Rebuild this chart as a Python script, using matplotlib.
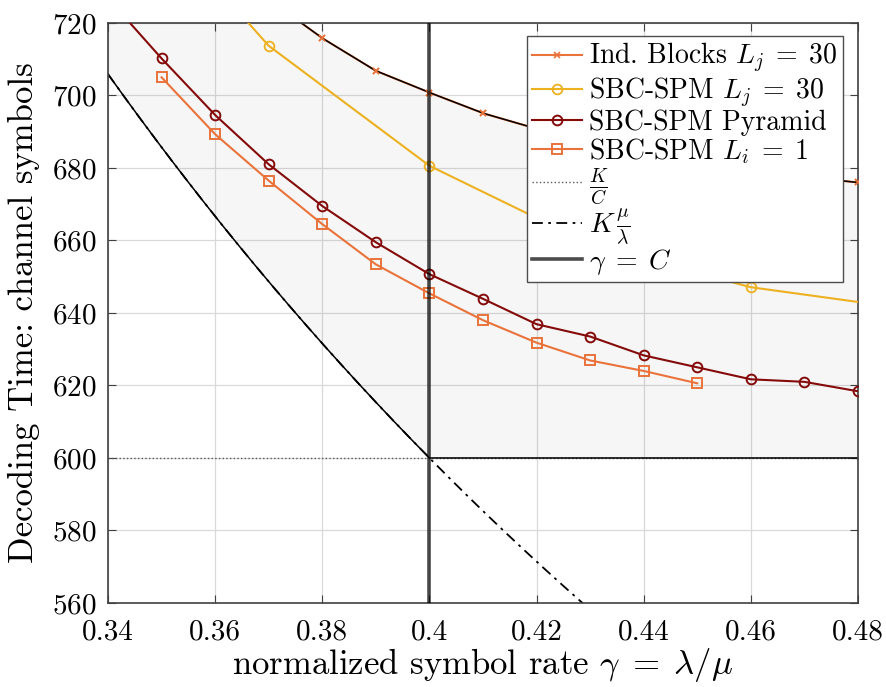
import numpy as np
import matplotlib
matplotlib.use("Agg")
import matplotlib.pyplot as plt

plt.rcParams['font.family'] = 'serif'
plt.rcParams['font.serif'] = ['cmr10']
plt.rcParams['mathtext.fontset'] = 'cm'
plt.rcParams['axes.formatter.use_mathtext'] = True
plt.rcParams['axes.unicode_minus'] = False

# Data
K = 240          # information symbols
C = 0.4          # capacity

ind_x = [0.37, 0.38, 0.39, 0.40, 0.41, 0.42, 0.43, 0.44, 0.45, 0.46, 0.47, 0.48]
ind_y = [726.5, 715.8, 706.8, 700.8, 695.1, 690.8, 687.0, 684.0, 681.5, 679.3, 677.5, 676.0]

lj_x = [0.34, 0.37, 0.40, 0.43, 0.46, 0.49]
lj_y = [763.5, 713.7, 680.6, 659.0, 647.1, 641.0]

pyr_x = [0.34, 0.35, 0.36, 0.37, 0.38, 0.39, 0.40, 0.41, 0.42, 0.43, 0.44, 0.45, 0.46, 0.47, 0.48]
pyr_y = [726.8, 710.2, 694.6, 681.0, 669.5, 659.5, 650.7, 643.9, 636.9, 633.5, 628.3, 625.0, 621.7, 621.0, 618.4]

li_x = [0.35, 0.36, 0.37, 0.38, 0.39, 0.40, 0.41, 0.42, 0.43, 0.44, 0.45]
li_y = [705.0, 689.3, 676.5, 664.5, 653.4, 645.4, 638.0, 631.8, 626.9, 624.0, 620.6]

xticks = [0.34, 0.36, 0.38, 0.4, 0.42, 0.44, 0.46, 0.48]
xticklabels = ['0.34', '0.36', '0.38', '0.4', '0.42', '0.44', '0.46', '0.48']
yticks = [560, 580, 600, 620, 640, 660, 680, 700, 720]

c_orange = '#E9733A'
c_yellow = '#EDB120'
c_dred = '#850A0A'

fig = plt.figure(figsize=(8.86, 6.87), dpi=100)
ax = fig.add_axes([0.1219, 0.1223, 0.8465, 0.8443])

# achievable region
g = np.linspace(0.34, 0.48, 701)
lower = np.maximum(K / g, K / C)
upper = np.interp(g, ind_x, ind_y, left=800)
ax.fill_between(g, lower, upper, color='k', alpha=0.035, lw=0, zorder=1)

ax.plot(ind_x, ind_y, '-', color=c_orange, marker='x', ms=4, mew=1.2, lw=1.5,
        label=r'Ind. Blocks $L_j\;=\;30$', zorder=2)
ax.plot(lj_x, lj_y, '-', color=c_yellow, marker='o', ms=7, mfc='none', mew=1.3,
        lw=1.5, label=r'SBC-SPM $L_j\;=\;30$', zorder=3)
ax.plot(pyr_x, pyr_y, '-', color=c_dred, marker='o', ms=7, mfc='none', mew=1.4,
        lw=1.5, label='SBC-SPM Pyramid', zorder=3)
ax.plot(li_x, li_y, '-', color=c_orange, marker='s', ms=6.5, mfc='none', mew=1.4,
        lw=1.5, label=r'SBC-SPM $L_i\;=\;1$', zorder=3)

ax.axhline(K / C, color='0.35', ls=':', lw=1, label=r'$\frac{K}{C}$', zorder=2)
ax.plot(g, K / g, color='k', ls=(0, (6, 3, 1.5, 3)), lw=1.3,
        label=r'$K\,\frac{\mu}{\lambda}$', zorder=2)

# region boundary
ax.plot(g, lower, color='k', lw=1.1, zorder=2.5)
ax.plot(g, upper, color='k', lw=1.1, zorder=2.5)
ax.plot(ind_x, ind_y, ls='none', color=c_orange, marker='x', ms=4, mew=1.2, zorder=4)

ax.axvline(C, color='k', lw=2.6, alpha=0.7, label=r'$\gamma\;=\;C$', zorder=5)

ax.set_xlim(0.34, 0.48)
ax.set_ylim(560, 720)
ax.set_xticks(xticks)
ax.set_xticklabels(xticklabels)
ax.set_yticks(yticks)
ax.grid(True, color='0.85', lw=0.9)
ax.set_axisbelow(True)
ax.tick_params(direction='in', top=True, right=True, labelsize=21, length=6,
               color='0.25')
ax.tick_params(axis='x', pad=12)
ax.tick_params(axis='y', pad=8)
for s in ax.spines.values():
    s.set_color('0.25')
    s.set_linewidth(1.2)

ax.set_xlabel(r'normalized symbol rate $\gamma\;=\;\lambda/\mu$', fontsize=25, labelpad=0)
ax.set_ylabel('Decoding Time: channel symbols', fontsize=25, labelpad=9)

leg = ax.legend(loc='upper right', bbox_to_anchor=(0.98, 0.978), fontsize=20,
                fancybox=False, framealpha=1, edgecolor='0.3', borderpad=0.2,
                labelspacing=0.0, handlelength=1.8, handletextpad=0.25,
                borderaxespad=0)
leg.get_frame().set_linewidth(1.0)
leg.set_zorder(10)

fig.savefig('out.png', dpi=100)
